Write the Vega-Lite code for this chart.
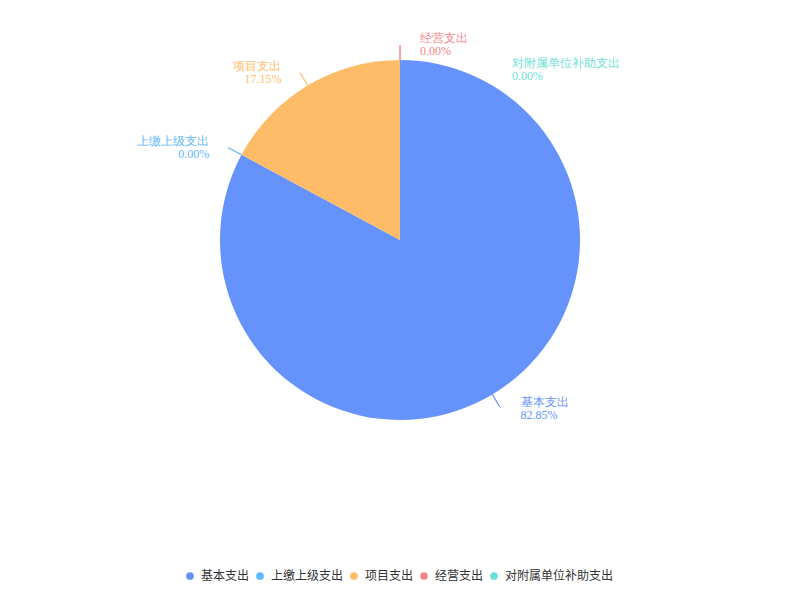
{
  "$schema": "https://vega.github.io/schema/vega-lite/v6.json",
  "width": 800,
  "height": 480,
  "padding": 0,
  "background": "white",
  "config": {"view": {"stroke": null}},
  "data": {
    "values": [
      {"category": "基本支出", "value": 82.85, "pct": "82.85%", "order": 1},
      {"category": "上缴上级支出", "value": 0, "pct": "0.00%", "order": 2},
      {"category": "项目支出", "value": 17.15, "pct": "17.15%", "order": 3},
      {"category": "经营支出", "value": 0, "pct": "0.00%", "order": 4},
      {"category": "对附属单位补助支出", "value": 0, "pct": "0.00%", "order": 5}
    ]
  },
  "transform": [
    {"stack": "value", "groupby": [], "sort": [{"field": "order"}], "as": ["s", "e"]},
    {"calculate": "(datum.s + datum.e) / 2", "as": "mid"},
    {"calculate": "datum.category + '\\n' + datum.pct", "as": "label"}
  ],
  "layer": [
    {
      "mark": {"type": "arc", "outerRadius": 180},
      "encoding": {
        "theta": {"field": "s", "type": "quantitative", "stack": null, "scale": {"domain": [0, 100]}},
        "theta2": {"field": "e"},
        "color": {
          "field": "category",
          "type": "nominal",
          "scale": {
            "domain": ["基本支出", "上缴上级支出", "项目支出", "经营支出", "对附属单位补助支出"],
            "range": ["#6592fb", "#62b8ff", "#ffbc68", "#f48787", "#6cdfd9"]
          },
          "legend": {
            "title": null,
            "orient": "none",
            "legendX": 184,
            "legendY": 570,
            "padding": 0,
            "direction": "horizontal",
            "symbolType": "circle",
            "symbolSize": 60,
            "symbolStrokeWidth": 0,
            "labelFontSize": 12,
            "labelColor": "#333333",
            "labelFont": "Noto Sans CJK SC",
            "labelOffset": 5,
            "columnPadding": 4
          }
        }
      }
    },
    {
      "transform": [{"filter": {"field": "category", "oneOf": ["基本支出", "上缴上级支出", "项目支出", "经营支出"]}}],
      "mark": {"type": "arc", "filled": false, "outerRadius": 195, "innerRadius": 180, "strokeWidth": 1},
      "encoding": {
        "theta": {"field": "mid", "type": "quantitative", "stack": null, "scale": {"domain": [0, 100]}},
        "theta2": {"field": "mid"},
        "stroke": {
          "field": "category",
          "type": "nominal",
          "scale": {
            "domain": ["基本支出", "上缴上级支出", "项目支出", "经营支出", "对附属单位补助支出"],
            "range": ["#6592fb", "#62b8ff", "#ffbc68", "#f48787", "#6cdfd9"]
          },
          "legend": null
        }
      }
    },
    {
      "transform": [{"filter": {"field": "category", "oneOf": ["基本支出", "经营支出"]}}],
      "mark": {"type": "text", "align": "left", "baseline": "middle", "dx": 20, "dy": -6, "font": "Liberation Serif", "fontSize": 12, "lineBreak": "\n", "lineHeight": 13},
      "encoding": {
        "theta": {"field": "mid", "type": "quantitative", "stack": null, "scale": {"domain": [0, 100]}},
        "radius": {"value": 196},
        "text": {"field": "label"},
        "fill": {
          "field": "category",
          "type": "nominal",
          "scale": {
            "domain": ["基本支出", "上缴上级支出", "项目支出", "经营支出", "对附属单位补助支出"],
            "range": ["#6592fb", "#62b8ff", "#ffbc68", "#f48787", "#6cdfd9"]
          },
          "legend": null
        }
      }
    },
    {
      "transform": [{"filter": {"field": "category", "oneOf": ["项目支出", "上缴上级支出"]}}],
      "mark": {"type": "text", "align": "right", "baseline": "middle", "dx": -18, "dy": -6, "font": "Liberation Serif", "fontSize": 12, "lineBreak": "\n", "lineHeight": 13},
      "encoding": {
        "theta": {"field": "mid", "type": "quantitative", "stack": null, "scale": {"domain": [0, 100]}},
        "radius": {"value": 196},
        "text": {"field": "label"},
        "fill": {"field": "category", "type": "nominal", "legend": null}
      }
    },
    {
      "transform": [{"filter": {"field": "category", "oneOf": ["对附属单位补助支出"]}}],
      "mark": {"type": "text", "align": "left", "baseline": "middle", "dx": 112, "dy": 19, "font": "Liberation Serif", "fontSize": 12, "lineBreak": "\n", "lineHeight": 13},
      "encoding": {
        "theta": {"field": "mid", "type": "quantitative", "stack": null, "scale": {"domain": [0, 100]}},
        "radius": {"value": 196},
        "text": {"field": "label"},
        "fill": {"field": "category", "type": "nominal", "legend": null}
      }
    }
  ]
}
